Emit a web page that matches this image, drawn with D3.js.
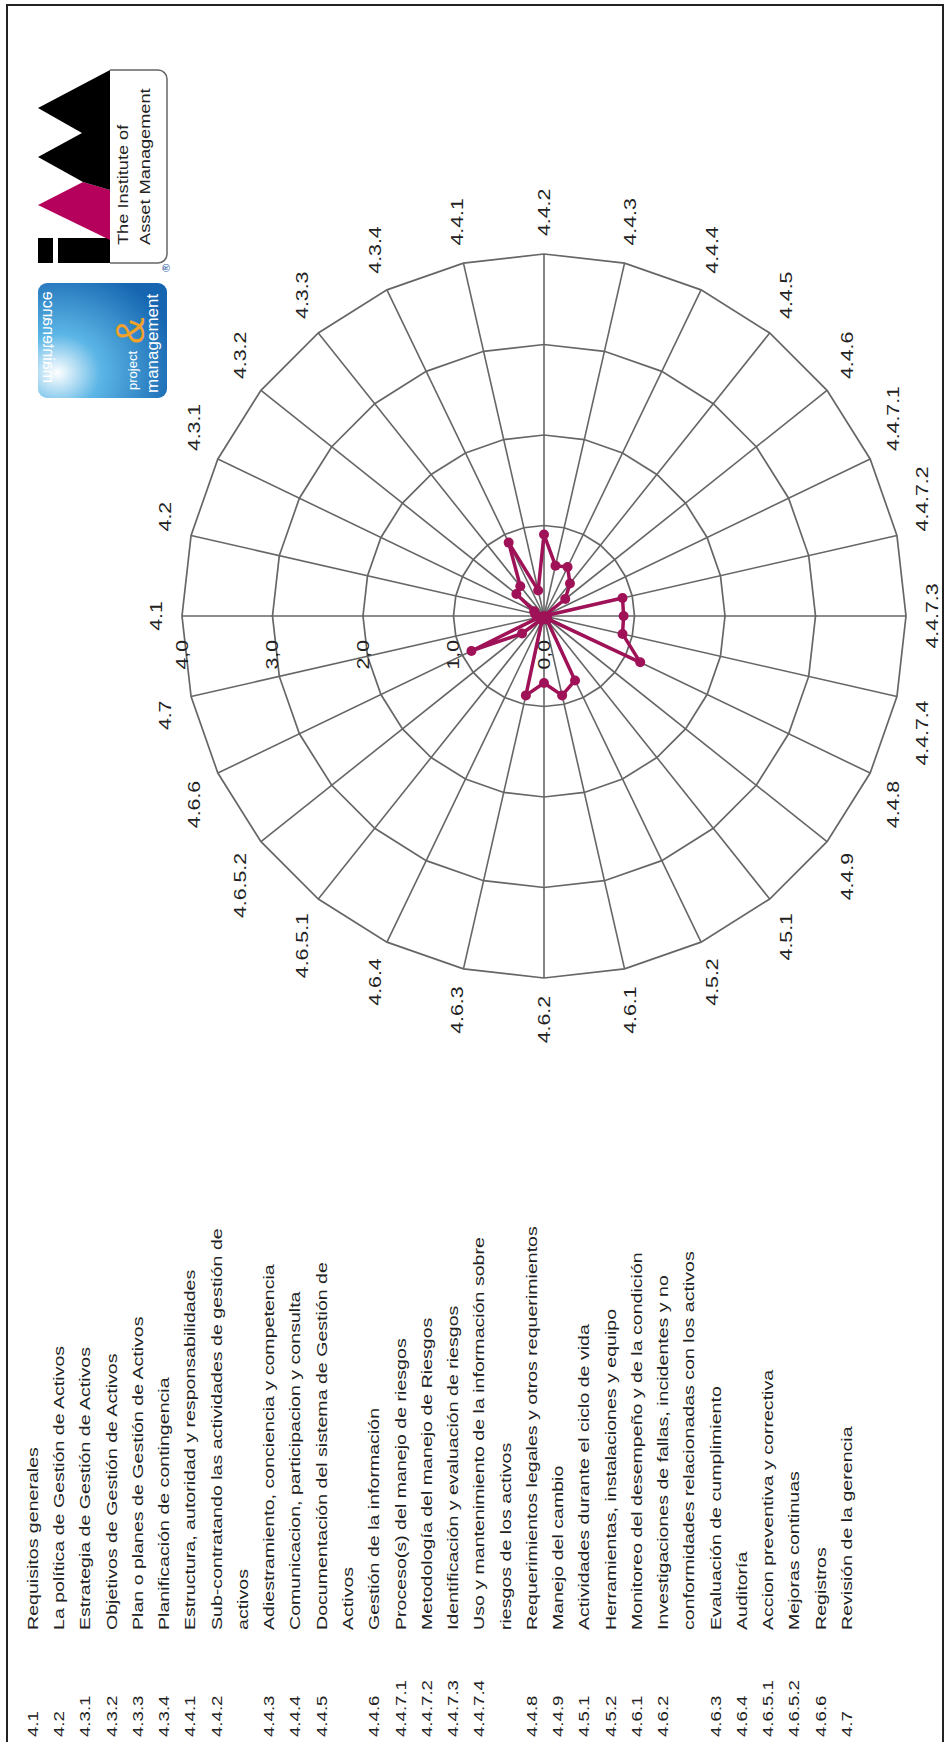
<!DOCTYPE html>
<html>
<head>
<meta charset="utf-8">
<script src="https://cdn.jsdelivr.net/npm/d3@7"></script>
<style>
  body { margin: 0; background: #fff; }
  svg { display: block; font-family: "Liberation Sans", Arial, sans-serif; }
</style>
</head>
<body>
<svg id="chart"></svg>
<script>
// clause numbers round the radar, clockwise from the top
var axes = ["4.1", "4.2", "4.3.1", "4.3.2", "4.3.3", "4.3.4", "4.4.1", "4.4.2", "4.4.3", "4.4.4",
    "4.4.5", "4.4.6", "4.4.7.1", "4.4.7.2", "4.4.7.3", "4.4.7.4", "4.4.8", "4.4.9", "4.5.1", "4.5.2",
    "4.6.1", "4.6.2", "4.6.3", "4.6.4", "4.6.5.1", "4.6.5.2", "4.6.6", "4.7"];
var scores = [0.08, 0.10, 0.12, 0.39, 0.42, 0.90, 0.29, 0.90, 0.57, 0.60,
    0.46, 0.30, 0.00, 0.89, 0.88, 0.89, 1.18, 0.05, 0.05, 0.79,
    0.90, 0.74, 0.90, 0.05, 0.05, 0.31, 0.89, 0.05];
var ringValues = [0, 1, 2, 3, 4];
var ringLabels = ["0,0", "1,0", "2,0", "3,0", "4,0"];

// legend, one entry per printed line ("" = continuation line)
var legendCodes = ["4.1", "4.2", "4.3.1", "4.3.2", "4.3.3", "4.3.4", "4.4.1", "4.4.2", "", "4.4.3",
    "4.4.4", "4.4.5", "", "4.4.6", "4.4.7.1", "4.4.7.2", "4.4.7.3", "4.4.7.4", "", "4.4.8",
    "4.4.9", "4.5.1", "4.5.2", "4.6.1", "4.6.2", "", "4.6.3", "4.6.4", "4.6.5.1", "4.6.5.2",
    "4.6.6", "4.7"];
var legendTexts = ["Requisitos generales",
    "La política de Gestión de Activos",
    "Estrategia de Gestión de Activos",
    "Objetivos de Gestión de Activos",
    "Plan o planes de Gestión de Activos",
    "Planificación de contingencia",
    "Estructura, autoridad y responsabilidades",
    "Sub-contratando las actividades de gestión de",
    "activos",
    "Adiestramiento, conciencia y competencia",
    "Comunicacion, participacion y consulta",
    "Documentación del sistema de Gestión de",
    "Activos",
    "Gestión de la información",
    "Proceso(s) del manejo de riesgos",
    "Metodología del manejo de Riesgos",
    "Identificación y evaluación de riesgos",
    "Uso y mantenimiento de la información sobre",
    "riesgos de los activos",
    "Requerimientos legales y otros requerimientos",
    "Manejo del cambio",
    "Actividades durante el ciclo de vida",
    "Herramientas, instalaciones y equipo",
    "Monitoreo del desempeño y de la condición",
    "Investigaciones de fallas, incidentes y no",
    "conformidades relacionadas con los activos",
    "Evaluación de cumplimiento",
    "Auditoría",
    "Accion preventiva y correctiva",
    "Mejoras continuas",
    "Registros",
    "Revisión de la gerencia"];

var pageW = 949, pageH = 1742;
var svg = d3.select("#chart").attr("width", pageW).attr("height", pageH);

svg.append("rect").attr("width", pageW).attr("height", pageH).attr("fill", "#fff");
svg.append("rect")
    .attr("x", 7).attr("y", 5)
    .attr("width", 936).attr("height", pageH + 10)
    .attr("fill", "none").attr("stroke", "#222").attr("stroke-width", 2);

// the whole sheet is printed turned a quarter turn to the left
var page = svg.append("g")
    .attr("transform", "translate(0," + pageH + ") rotate(-90)");

var stretch = 1.33;   // lettering is wider than it is tall in the scan
var dark = "#9f1257";
var gridCol = "#666";

// ---------- radar ----------
var cx = 1126, cy = 544, R = 362;
var r = d3.scaleLinear().domain([0, 4]).range([0, R]);
var ang = d3.scaleLinear().domain([0, axes.length]).range([0, 2 * Math.PI]);

var radar = page.append("g").attr("transform", "translate(" + cx + "," + cy + ")");

radar.selectAll("line.spoke")
    .data(axes)
    .enter().append("line")
    .attr("class", "spoke")
    .attr("x1", 0).attr("y1", 0)
    .attr("x2", function (d, i) { return d3.pointRadial(ang(i), r(4))[0]; })
    .attr("y2", function (d, i) { return d3.pointRadial(ang(i), r(4))[1]; })
    .attr("stroke", gridCol).attr("stroke-width", 1.6);

radar.selectAll("path.ring")
    .data(ringValues.filter(function (v) { return v > 0; }))
    .enter().append("path")
    .attr("class", "ring")
    .attr("d", function (v) {
        return d3.lineRadial()
            .angle(function (d, i) { return ang(i); })
            .radius(r(v))
            .curve(d3.curveLinearClosed)(axes);
    })
    .attr("fill", "none").attr("stroke", gridCol).attr("stroke-width", 1.7);

// ring values along the first spoke
radar.selectAll("g.rlab")
    .data(ringValues)
    .enter().append("g")
    .attr("class", "rlab")
    .attr("transform", function (v) {
        return "translate(-24," + (-r(v)) + ") scale(" + stretch + ",1)";
    })
    .append("text")
    .attr("text-anchor", "end")
    .attr("dy", "0.35em")
    .attr("font-size", 16)
    .attr("fill", "#222")
    .text(function (v, i) { return ringLabels[i]; });

// clause labels
radar.selectAll("g.alab")
    .data(axes)
    .enter().append("g")
    .attr("class", "alab")
    .attr("transform", function (d, i) {
        var p = d3.pointRadial(ang(i), r(4) + 18);
        var c = Math.cos(ang(i));
        return "translate(" + p[0] + "," + (p[1] - c * 8) + ") scale(" + stretch + ",1)";
    })
    .append("text")
    .attr("text-anchor", function (d, i) {
        var s = Math.sin(ang(i));
        return s > 0.05 ? "start" : (s < -0.05 ? "end" : "middle");
    })
    .attr("dy", "0.35em")
    .attr("font-size", 16)
    .attr("fill", "#222")
    .text(function (d) { return d; });

// scores
radar.append("path")
    .datum(scores)
    .attr("d", d3.lineRadial()
        .angle(function (d, i) { return ang(i); })
        .radius(function (d) { return r(d); })
        .curve(d3.curveLinearClosed))
    .attr("fill", "none")
    .attr("stroke", dark).attr("stroke-width", 3.5)
    .attr("stroke-linejoin", "round");

radar.selectAll("circle.pt")
    .data(scores)
    .enter().append("circle")
    .attr("class", "pt")
    .attr("cx", function (d, i) { return d3.pointRadial(ang(i), r(d))[0]; })
    .attr("cy", function (d, i) { return d3.pointRadial(ang(i), r(d))[1]; })
    .attr("r", 5)
    .attr("fill", dark);

// ---------- legend ----------
var row = d3.scalePoint().domain(d3.range(legendTexts.length)).range([33, 847]);
var legend = page.append("g");

legend.selectAll("g.code")
    .data(legendCodes)
    .enter().append("g")
    .attr("class", "code")
    .attr("transform", function (d, i) { return "translate(5," + row(i) + ") scale(" + stretch + ",1)"; })
    .append("text")
    .attr("dy", "0.35em")
    .attr("font-size", 14)
    .attr("fill", "#222")
    .text(function (d) { return d; });

legend.selectAll("g.desc")
    .data(legendTexts)
    .enter().append("g")
    .attr("class", "desc")
    .attr("transform", function (d, i) { return "translate(112," + row(i) + ") scale(1.4,1)"; })
    .append("text")
    .attr("dy", "0.35em")
    .attr("font-size", 14)
    .attr("fill", "#222")
    .text(function (d) { return d; });

// ---------- logos ----------
var iam = page.append("g");
iam.append("rect")
    .attr("x", 1479).attr("y", 100).attr("width", 193).attr("height", 67).attr("rx", 9)
    .attr("fill", "#fff").attr("stroke", "#666").attr("stroke-width", 1.5);
iam.append("rect").attr("x", 1470).attr("y", 38).attr("width", 210).attr("height", 72).attr("fill", "#fff");
iam.append("rect").attr("x", 1479).attr("y", 38).attr("width", 25).attr("height", 15).attr("fill", "#000");
iam.append("rect").attr("x", 1479).attr("y", 58).attr("width", 25).attr("height", 52).attr("fill", "#000");
iam.append("polygon")
    .attr("points", "1560,83 1537,38 1502,110 1552,110")
    .attr("fill", "#b5005c");
iam.append("polygon")
    .attr("points", "1672,110 1634,38 1609,82 1585,38 1560,83 1552,110")
    .attr("fill", "#000");
iam.append("g").attr("transform", "translate(1497,128) scale(1.3,1)")
    .append("text").attr("font-size", 14).attr("fill", "#222").text("The Institute of");
iam.append("g").attr("transform", "translate(1497,150) scale(1.3,1)")
    .append("text").attr("font-size", 14).attr("fill", "#222").text("Asset Management");
iam.append("text")
    .attr("x", 1470).attr("y", 170).attr("font-size", 11).attr("fill", "#2a5aa0").text("®");

var defs = svg.append("defs");
var grad = defs.append("radialGradient").attr("id", "pmGlow")
    .attr("cx", "0.22").attr("cy", "0.15").attr("r", "0.95");
grad.append("stop").attr("offset", "0").attr("stop-color", "#ffffff");
grad.append("stop").attr("offset", "0.35").attr("stop-color", "#5cb6e6");
grad.append("stop").attr("offset", "1").attr("stop-color", "#1565b0");

var pm = page.append("g");
pm.append("rect")
    .attr("x", 1344).attr("y", 38).attr("width", 115).attr("height", 129).attr("rx", 9)
    .attr("fill", "url(#pmGlow)");
pm.append("text").attr("x", 1352).attr("y", 137).attr("font-size", 13).attr("fill", "#fff").text("project");
pm.append("text").attr("x", 1349).attr("y", 158).attr("font-size", 17).attr("fill", "#fff").text("management");
pm.append("text").attr("x", 1398).attr("y", 144).attr("font-size", 40)
    .attr("fill", "#f2a22a").text("&");
pm.append("g").attr("transform", "translate(1359,43) scale(1,-1)")
    .append("text").attr("font-size", 16).attr("fill", "#fff").text("maintenance");
</script>
</body>
</html>
